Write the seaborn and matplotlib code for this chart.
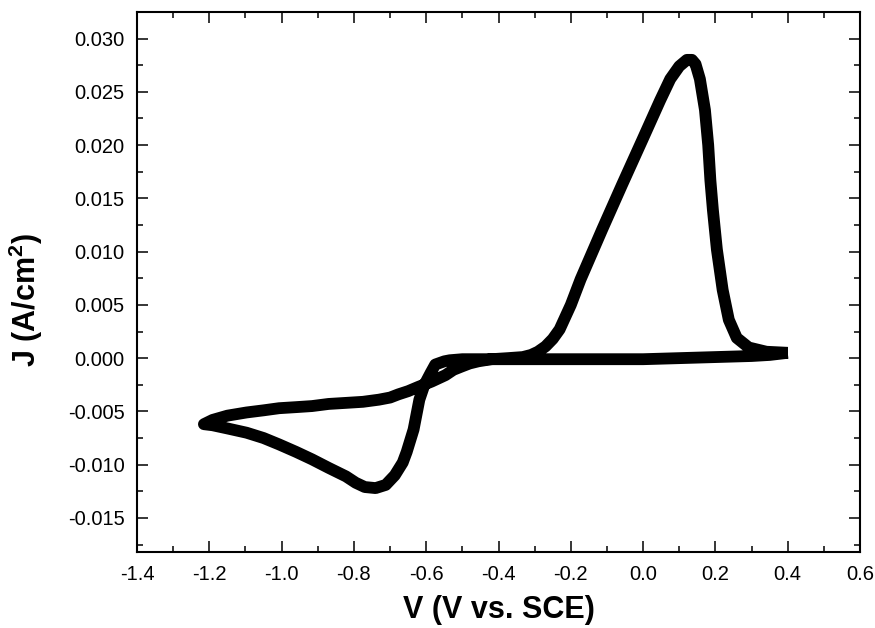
import matplotlib
matplotlib.use("Agg")
import matplotlib.pyplot as plt
from matplotlib.ticker import MultipleLocator, FormatStrFormatter
import seaborn as sns
import pandas as pd

# cyclic voltammogram in scan order
# start at +0.40 V, scan negative, reverse at -1.215 V, back to +0.40 V
potential = [
    0.40, 0.35, 0.30, 0.20, 0.10, 0.00, -0.10, -0.20, -0.30, -0.40, -0.50, -0.535,
    -0.55, -0.575, -0.588, -0.605, -0.619, -0.635, -0.654, -0.665, -0.687, -0.712,
    -0.740, -0.770, -0.795, -0.822, -0.870, -0.916, -0.960, -1.007, -1.050, -1.097,
    -1.150, -1.191, -1.215,
    -1.191, -1.150, -1.097, -1.050, -1.007, -0.960, -0.916, -0.870, -0.822, -0.775,
    -0.731, -0.700, -0.677, -0.650, -0.622, -0.585, -0.547, -0.525, -0.503, -0.480,
    -0.456, -0.420, -0.374, -0.333, -0.310, -0.291, -0.270, -0.250, -0.231, -0.200,
    -0.173, -0.113, -0.058, -0.002, 0.047, 0.075, 0.100, 0.121, 0.135, 0.145,
    0.157, 0.171, 0.180, 0.186, 0.193, 0.204, 0.220, 0.237, 0.259, 0.292, 0.341, 0.40,
]
current = [
    0.0005, 0.0003, 0.0002, 0.0001, 0.0, -0.0001, -0.0001, -0.0001, -0.0001, -0.0001, -0.0001, -0.0002,
    -0.0003, -0.0006, -0.0014, -0.0025, -0.0039, -0.0067, -0.0088, -0.0098, -0.0110, -0.0119,
    -0.0122, -0.0121, -0.0117, -0.0111, -0.0103, -0.0095, -0.0088, -0.0081, -0.0075, -0.0070,
    -0.0066, -0.0063, -0.0062,
    -0.0058, -0.0054, -0.0051, -0.0049, -0.0047, -0.0046, -0.0045, -0.0043, -0.0042, -0.0041,
    -0.0039, -0.0037, -0.0034, -0.0031, -0.0027, -0.0022, -0.0016, -0.0011, -0.0008, -0.0005,
    -0.0003, -0.0001, 0.0, 0.0001, 0.0003, 0.0006, 0.0011, 0.0018, 0.0027, 0.0050,
    0.0074, 0.0121, 0.0163, 0.0205, 0.0242, 0.0262, 0.0274, 0.0280, 0.0280, 0.0276,
    0.0262, 0.0233, 0.0200, 0.0167, 0.0139, 0.0102, 0.0064, 0.0036, 0.0019, 0.0010, 0.0006, 0.0005,
]

df = pd.DataFrame({"V": potential, "J": current})

sns.set_style("ticks")
plt.rcParams["font.family"] = ["Liberation Sans", "DejaVu Sans"]
plt.rcParams["axes.unicode_minus"] = False
plt.rcParams["mathtext.fontset"] = "custom"
plt.rcParams["mathtext.rm"] = "Liberation Sans"
plt.rcParams["mathtext.bf"] = "Liberation Sans:bold"
plt.rcParams["text.color"] = "black"
plt.rcParams["axes.labelcolor"] = "black"

fig = plt.figure(figsize=(8.75, 6.28), dpi=100)
ax = fig.add_axes([0.1566, 0.121, 0.8263, 0.860])

sns.lineplot(data=df, x="V", y="J", sort=False, estimator=None, color="black",
             linewidth=8.5, ax=ax)
for ln in ax.get_lines():
    ln.set_solid_capstyle("butt")
    ln.set_solid_joinstyle("round")

ax.set_xlim(-1.4, 0.6)
ax.set_ylim(-0.0182, 0.0325)
ax.xaxis.set_major_locator(MultipleLocator(0.2))
ax.xaxis.set_minor_locator(MultipleLocator(0.1))
ax.yaxis.set_major_locator(MultipleLocator(0.005))
ax.yaxis.set_minor_locator(MultipleLocator(0.0025))
ax.xaxis.set_major_formatter(FormatStrFormatter("%.1f"))
ax.yaxis.set_major_formatter(FormatStrFormatter("%.3f"))

ax.tick_params(which="both", direction="in", top=True, right=True, width=1.1, colors="black")
ax.tick_params(which="major", length=8, pad=9, labelsize=14.5)
ax.tick_params(which="minor", length=4.5)
for sp in ax.spines.values():
    sp.set_linewidth(1.5)
    sp.set_color("black")

ax.set_xlabel("V (V vs. SCE)", fontsize=22, fontweight="bold", labelpad=8, color="black")
ax.set_ylabel(r"J (A/cm$^\mathbf{2}$)", fontsize=22, fontweight="bold", color="black")
ax.yaxis.set_label_coords(-0.127, 0.467)

fig.savefig("out.png", dpi=100)
